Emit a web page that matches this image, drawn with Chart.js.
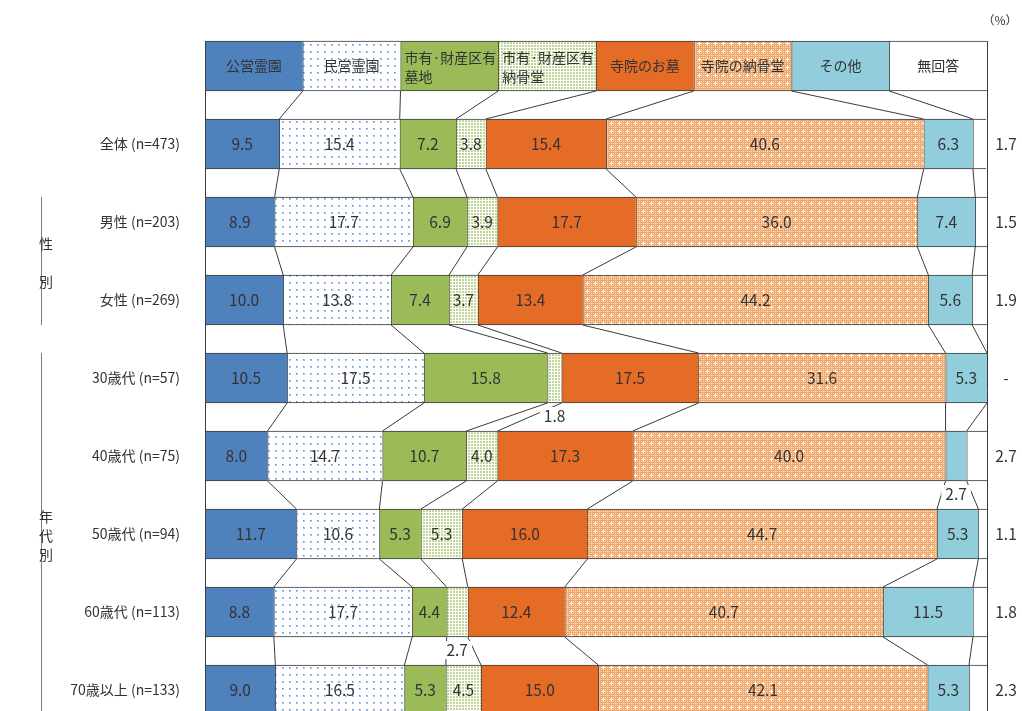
<!DOCTYPE html>
<html lang="ja">
<head>
<meta charset="UTF-8">
<title>希望するお墓の種類</title>
<script src="https://cdn.jsdelivr.net/npm/chart.js@4/dist/chart.umd.min.js"></script>
<style>
    html, body { margin: 0; padding: 0; background: #ffffff; overflow: hidden; }
    #wrap { width: 1022px; height: 711px; overflow: hidden; }
</style>
</head>
<body>
<div id="wrap"><canvas id="graveChart" width="1022" height="740"></canvas></div>
<script>
// 区分（凡例行に表示）
const seriesLabels = ['公営霊園', '民営霊園', '市有·財産区有\n墓地', '市有·財産区有\n納骨堂', '寺院のお墓', '寺院の納骨堂', 'その他', '無回答'];

// 行ラベル（先頭は凡例行）
const rowLabels = ['', '全体 (n=473)', '男性 (n=203)', '女性 (n=269)', '30歳代 (n=57)', '40歳代 (n=75)', '50歳代 (n=94)', '60歳代 (n=113)', '70歳以上 (n=133)'];

// 凡例行は8等分
const headerRow = [12.5, 12.5, 12.5, 12.5, 12.5, 12.5, 12.5, 12.5];

// 各区分の割合（%）
const koeiReien   = [9.5, 8.9, 10.0, 10.5, 8.0, 11.7, 8.8, 9.0];
const minkanReien = [15.4, 17.7, 13.8, 17.5, 14.7, 10.6, 17.7, 16.5];
const shiyuBochi  = [7.2, 6.9, 7.4, 15.8, 10.7, 5.3, 4.4, 5.3];
const shiyuNokotsu = [3.8, 3.9, 3.7, 1.8, 4.0, 5.3, 2.7, 4.5];
const jiinOhaka   = [15.4, 17.7, 13.4, 17.5, 17.3, 16.0, 12.4, 15.0];
const jiinNokotsu = [40.6, 36.0, 44.2, 31.6, 40.0, 44.7, 40.7, 42.1];
const sonota      = [6.3, 7.4, 5.6, 5.3, 2.7, 5.3, 11.5, 5.3];
const mukaito     = [1.7, 1.5, 1.9, 0, 2.7, 1.1, 1.8, 2.3];

// 左側のグループ見出し（行番号は rowLabels の添字）
const groups = [
    { chars: ['性', '', '別'], from: 2, to: 3 },
    { chars: ['年', '代', '別'], from: 4, to: 8 }
];

document.addEventListener('DOMContentLoaded', function () {
    const family = "'Noto Sans CJK JP', 'Noto Sans', sans-serif";
    const textColor = '#333333';
    const lineColor = '#3a3a3a';

    // 塗りパターン作成
    function makePattern(size, draw) {
        const c = document.createElement('canvas');
        c.width = size;
        c.height = size;
        const p = c.getContext('2d');
        draw(p, size);
        return p.createPattern(c, 'repeat');
    }

    const dotBlue = makePattern(7, (p) => {
        p.fillStyle = '#ffffff';
        p.fillRect(0, 0, 7, 7);
        p.fillStyle = '#a2c4ec';
        p.fillRect(2, 2, 2, 2);
        p.fillStyle = '#5a90d6';
        p.fillRect(2, 2, 1, 1);
    });

    const dotGreen = makePattern(3, (p) => {
        p.fillStyle = '#ffffff';
        p.fillRect(0, 0, 3, 3);
        p.fillStyle = '#c0d697';
        p.fillRect(0, 0, 2, 2);
    });

    const crossOrange = makePattern(8, (p) => {
        p.fillStyle = '#f3a86c';
        p.fillRect(0, 0, 8, 8);
        p.fillStyle = '#fbe2cc';
        for (let x = 1; x < 8; x += 2) {
            for (let y = 1; y < 8; y += 2) {
                p.fillRect(x, y, 1, 1);
            }
        }
        p.fillStyle = '#ffffff';
        p.fillRect(3, 2, 1, 3);
        p.fillRect(2, 3, 3, 1);
    });

    const seriesValues = [koeiReien, minkanReien, shiyuBochi, shiyuNokotsu, jiinOhaka, jiinNokotsu, sonota, mukaito];
    const fills = ['#4f81bd', dotBlue, '#9bbb59', dotGreen, '#e46c27', crossOrange, '#92cddc', '#ffffff'];

    const datasets = seriesValues.map((values, k) => ({
        label: seriesLabels[k],
        data: [headerRow[k]].concat(values),
        backgroundColor: fills[k],
        borderColor: lineColor,
        borderWidth: { top: 1, bottom: 1, left: 1, right: 0 },
        borderSkipped: false,
        barThickness: 50
    }));

    // 線・ラベル描画用プラグイン
    const overlayPlugin = {
        id: 'overlay',
        afterDatasetsDraw(chart) {
            const ctx = chart.ctx;
            const area = chart.chartArea;
            const metas = chart.data.datasets.map((d, k) => chart.getDatasetMeta(k));
            const rowCount = rowLabels.length;
            const bar = (k, i) => metas[k].data[i].getProps(['x', 'y', 'base', 'height'], true);

            ctx.save();
            ctx.strokeStyle = lineColor;
            ctx.lineWidth = 1;

            // 区分線（行と行をつなぐ斜線）
            for (let i = 0; i < rowCount - 1; i++) {
                for (let k = 0; k < metas.length - 1; k++) {
                    const a = bar(k, i);
                    const b = bar(k, i + 1);
                    ctx.beginPath();
                    ctx.moveTo(a.x, a.y + a.height / 2);
                    ctx.lineTo(b.x, b.y - b.height / 2);
                    ctx.stroke();
                }
            }

            // 左右の縦線
            const top = bar(0, 0);
            const topY = top.y - top.height / 2;
            ctx.beginPath();
            ctx.moveTo(Math.round(area.left) + 0.5, topY);
            ctx.lineTo(Math.round(area.left) + 0.5, chart.height);
            ctx.moveTo(Math.round(area.right) + 0.5, topY);
            ctx.lineTo(Math.round(area.right) + 0.5, chart.height);
            ctx.stroke();

            // 凡例行の文字
            ctx.fillStyle = textColor;
            ctx.font = `14px ${family}`;
            ctx.textBaseline = 'middle';
            metas.forEach((m, k) => {
                const b = bar(k, 0);
                const lines = seriesLabels[k].split('\n');
                if (lines.length > 1) {
                    ctx.textAlign = 'left';
                    lines.forEach((t, n) => ctx.fillText(t, b.base + 4, b.y - 8 + n * 19));
                } else {
                    ctx.textAlign = 'center';
                    ctx.fillText(lines[0], (b.x + b.base) / 2, b.y);
                }
            });

            // 数値ラベル
            ctx.font = `15.5px ${family}`;
            ctx.textAlign = 'center';
            for (let i = 1; i < rowCount; i++) {
                for (let k = 0; k < metas.length; k++) {
                    const v = seriesValues[k][i - 1];
                    const b = bar(k, i);
                    if (k === metas.length - 1) {
                        // 無回答は枠の右外側
                        ctx.fillStyle = textColor;
                        ctx.fillText(v === 0 ? '-' : v.toFixed(1), area.right + 19, b.y);
                    } else if (v >= 3) {
                        ctx.fillStyle = textColor;
                        ctx.fillText(v.toFixed(1), (b.x + b.base) / 2, b.y);
                    } else {
                        // 小さい値は帯の下に白地で表示
                        const t = v.toFixed(1);
                        const cx = (b.x + b.base) / 2;
                        const cy = b.y + b.height / 2 + 13;
                        const w = ctx.measureText(t).width;
                        ctx.fillStyle = '#ffffff';
                        ctx.fillRect(cx - w / 2 - 4, cy - 9, w + 8, 18);
                        ctx.fillStyle = textColor;
                        ctx.fillText(t, cx, cy);
                    }
                }
            }

            // グループ見出し
            const yScale = chart.scales.y;
            ctx.font = `14px ${family}`;
            ctx.fillStyle = textColor;
            ctx.strokeStyle = '#7f7f7f';
            groups.forEach(g => {
                const y0 = yScale.getPixelForValue(g.from) - 25;
                const y1 = Math.min(yScale.getPixelForValue(g.to) + 25, chart.height);
                ctx.beginPath();
                ctx.moveTo(41.5, y0);
                ctx.lineTo(41.5, y1);
                ctx.stroke();
                const mid = (y0 + y1) / 2 + 2;
                g.chars.forEach((c, n) => {
                    ctx.fillText(c, 46, mid + (n - (g.chars.length - 1) / 2) * 19);
                });
            });

            // 単位
            ctx.font = `12px ${family}`;
            ctx.textAlign = 'center';
            ctx.fillText('（%）', 1000, 20);

            ctx.restore();
        }
    };

    new Chart(document.getElementById('graveChart'), {
        type: 'bar',
        data: { labels: rowLabels, datasets },
        options: {
            indexAxis: 'y',
            responsive: false,
            animation: false,
            layout: { padding: { top: 27, right: 35, bottom: 11, left: 0 } },
            scales: {
                x: { stacked: true, min: 0, max: 100, display: false },
                y: {
                    stacked: true,
                    grid: { display: false, drawTicks: false },
                    border: { display: false },
                    ticks: {
                        color: textColor,
                        font: { size: 14, family },
                        padding: 25,
                        autoSkip: false
                    },
                    afterFit(scale) {
                        scale.width = 205;
                        scale.paddingTop = 0;
                        scale.paddingBottom = 0;
                    }
                }
            },
            plugins: {
                legend: { display: false },
                tooltip: { enabled: false }
            }
        },
        plugins: [overlayPlugin]
    });
});
</script>
</body>
</html>
